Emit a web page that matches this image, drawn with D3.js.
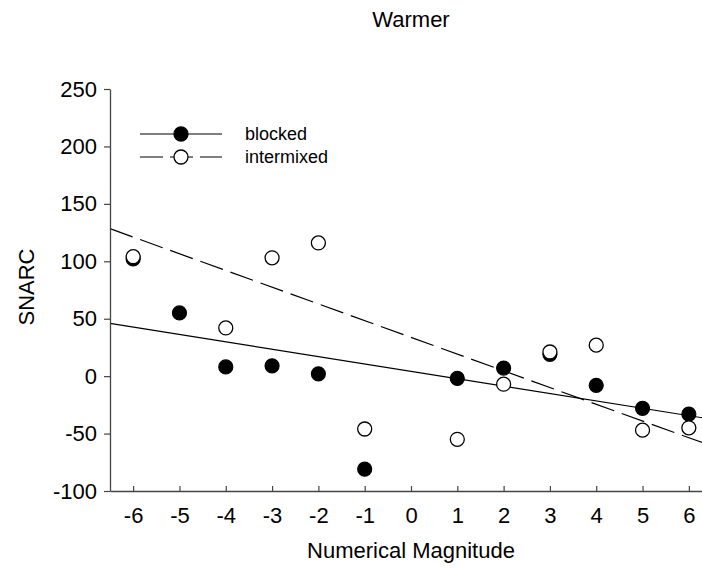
<!DOCTYPE html>
<html>
<head>
<meta charset="utf-8">
<script src="https://cdn.jsdelivr.net/npm/d3@7"></script>
<style>
  html, body { margin: 0; padding: 0; background: #fff; }
  svg { display: block; font-family: Arial, "Liberation Sans", Helvetica, sans-serif; }
</style>
</head>
<body>
<svg id="chart" width="702" height="568"></svg>
<script>
// ---- data ----
const title = "Warmer";
const xLabel = "Numerical Magnitude";
const yLabel = "SNARC";
const magnitudes = [-6, -5, -4, -3, -2, -1, 1, 2, 3, 4, 5, 6];
const blocked    = [102, 55, 8, 9, 2, -81, -2, 7, 19, -8, -28, -33];
const intermixed = [104, 192, 42, 103, 116, -46, -55, -7, 21, 27, -47, -45];
const xTicks = [-6, -5, -4, -3, -2, -1, 0, 1, 2, 3, 4, 5, 6];
const yTicks = [-100, -50, 0, 50, 100, 150, 200, 250];
const seriesNames = ["blocked", "intermixed"];

// ---- layout ----
const svg = d3.select("#chart");
const x = d3.scaleLinear().domain([-6.5, 6.5]).range([110, 712]);
const y = d3.scaleLinear().domain([-100, 250]).range([491, 89]);
const axisColor = "#444";

function fit(xs, ys) {
  const n = xs.length;
  const mx = d3.mean(xs), my = d3.mean(ys);
  let sxy = 0, sxx = 0;
  for (let i = 0; i < n; i++) { sxy += (xs[i] - mx) * (ys[i] - my); sxx += (xs[i] - mx) ** 2; }
  const b = sxy / sxx;
  return { a: my - b * mx, b };
}

// regression lines
const [x0, x1] = x.domain();
const fb = fit(magnitudes, blocked);
const fi = fit(magnitudes, intermixed);
svg.append("line")
  .attr("x1", x(x0)).attr("y1", y(fb.a + fb.b * x0))
  .attr("x2", x(x1)).attr("y2", y(fb.a + fb.b * x1))
  .attr("stroke", "#000").attr("stroke-width", 1.2);
svg.append("line")
  .attr("x1", x(x0)).attr("y1", y(fi.a + fi.b * x0))
  .attr("x2", x(x1)).attr("y2", y(fi.a + fi.b * x1))
  .attr("stroke", "#000").attr("stroke-width", 1.2)
  .attr("stroke-dasharray", "24,8");

// axes
const xAxis = d3.axisBottom(x).tickValues(xTicks).tickFormat(d3.format("d"))
  .tickSizeInner(-5).tickSizeOuter(0).tickPadding(16);
const gx = svg.append("g").attr("transform", "translate(0,491)").call(xAxis);
const yAxis = d3.axisLeft(y).tickValues(yTicks).tickFormat(d3.format("d"))
  .tickSizeInner(6).tickSizeOuter(0).tickPadding(7);
const gy = svg.append("g").attr("transform", "translate(110,0)").call(yAxis);
[gx, gy].forEach(g => {
  g.select(".domain").attr("stroke", axisColor).attr("stroke-width", 1.3);
  g.selectAll(".tick line").attr("stroke", axisColor).attr("stroke-width", 1.2);
  g.selectAll(".tick text").attr("fill", "#000").style("font-size", "22px");
});
// y tick labels: fix to use the same font, no "−" issue
gy.selectAll(".tick text").text(d => String(d));
gx.selectAll(".tick text").text(d => String(d));

// points
const r = 7;
svg.append("g").selectAll("circle").data(magnitudes.map((m, i) => [m, blocked[i]]))
  .join("circle")
  .attr("cx", d => x(d[0])).attr("cy", d => y(d[1])).attr("r", r)
  .attr("fill", "#000").attr("stroke", "#000").attr("stroke-width", 1.2);
svg.append("g").selectAll("circle").data(magnitudes.map((m, i) => [m, intermixed[i]]))
  .join("circle")
  .attr("cx", d => x(d[0])).attr("cy", d => y(d[1])).attr("r", r)
  .attr("fill", "#fff").attr("stroke", "#000").attr("stroke-width", 1.3);

// legend
const lg = svg.append("g");
lg.append("rect").attr("x", 135).attr("y", 120).attr("width", 210).attr("height", 48).attr("fill", "#fff");
const rows = [{ y: 134, dash: null, fill: "#000" }, { y: 157, dash: "23,7", fill: "#fff" }];
rows.forEach((row, i) => {
  lg.append("line").attr("x1", 140).attr("x2", 222).attr("y1", row.y).attr("y2", row.y)
    .attr("stroke", "#000").attr("stroke-width", 1.2)
    .attr("stroke-dasharray", row.dash);
  lg.append("circle").attr("cx", 181).attr("cy", row.y).attr("r", r)
    .attr("fill", row.fill).attr("stroke", "#000").attr("stroke-width", 1.3);
  lg.append("text").attr("x", 245).attr("y", row.y).attr("dy", "0.35em")
    .style("font-size", "18px").attr("fill", "#000").text(seriesNames[i]);
});

// titles
svg.append("text").attr("x", 411).attr("y", 27).attr("text-anchor", "middle")
  .style("font-size", "22px").attr("fill", "#000").text(title);
svg.append("text").attr("x", 411).attr("y", 558).attr("text-anchor", "middle")
  .style("font-size", "22px").attr("fill", "#000").text(xLabel);
svg.append("text").attr("transform", "translate(34,287) rotate(-90)")
  .attr("text-anchor", "middle")
  .style("font-size", "22px").attr("fill", "#000").text(yLabel);
</script>
</body>
</html>
